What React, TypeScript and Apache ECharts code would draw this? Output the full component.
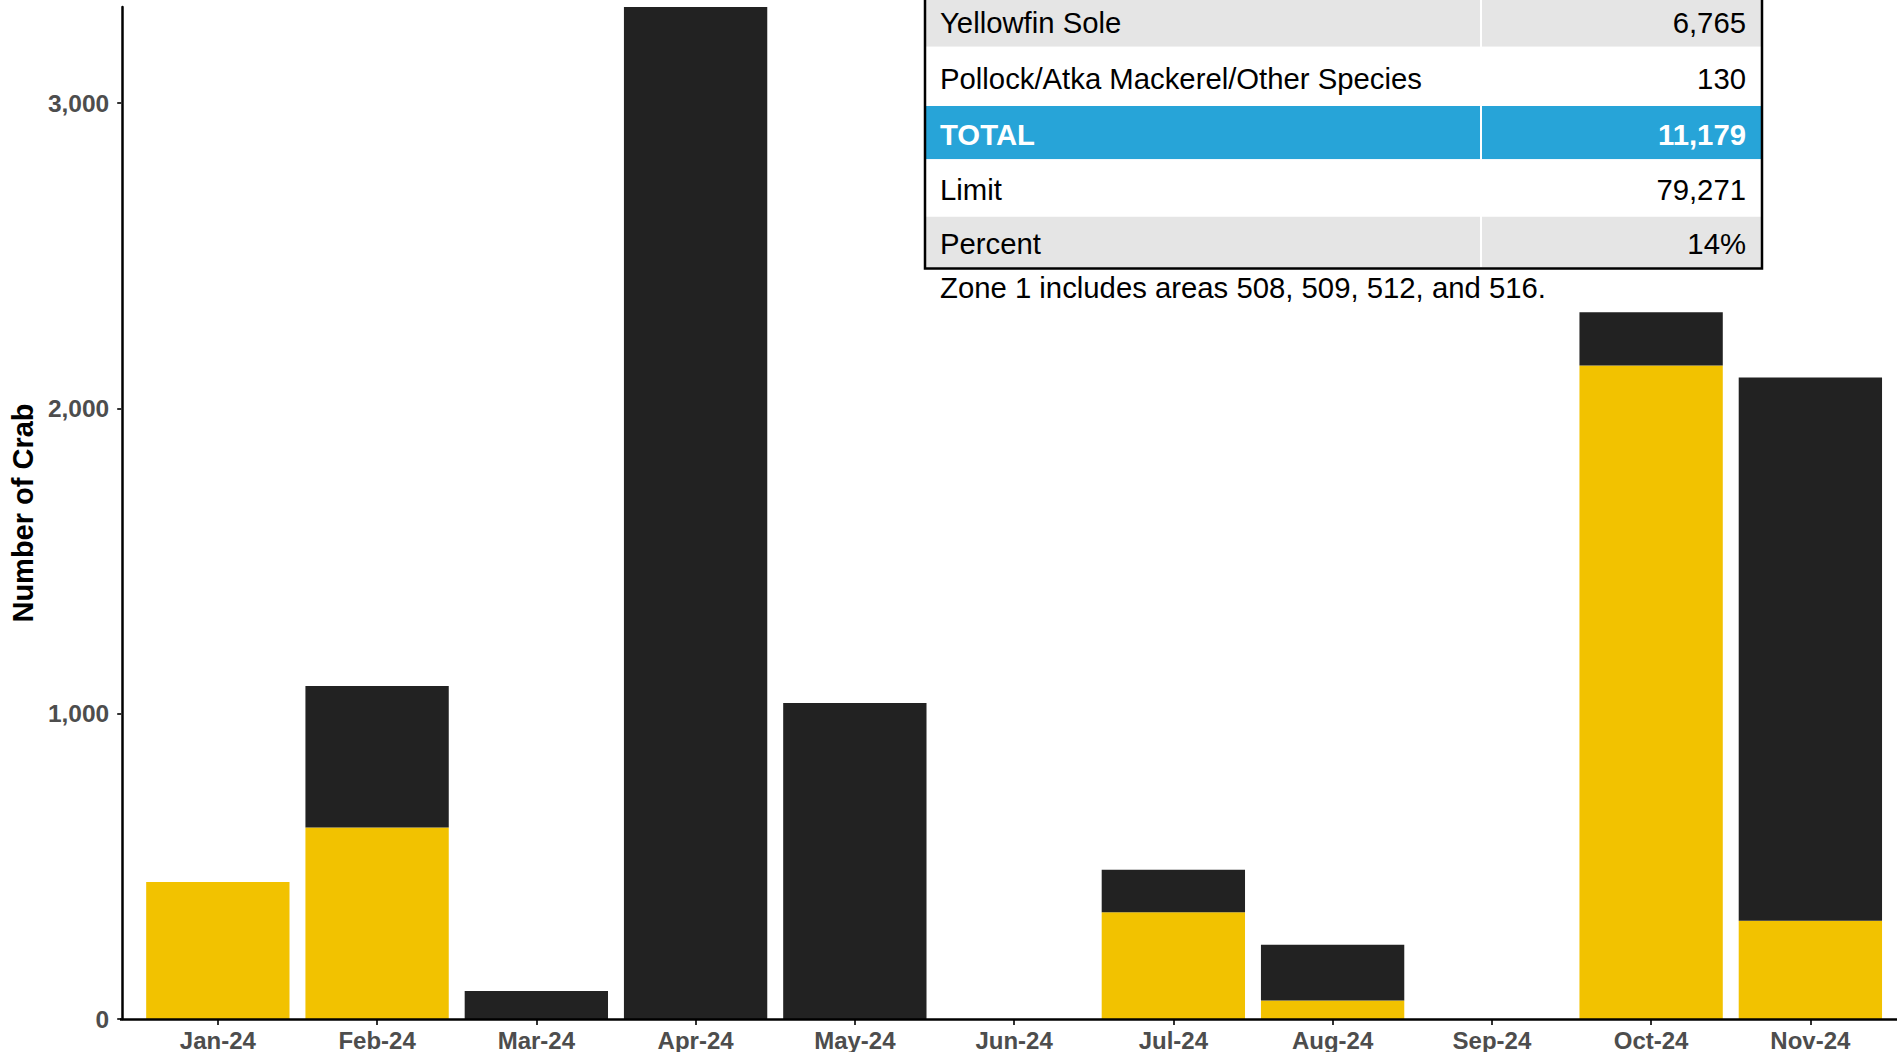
import React, { useEffect, useRef } from "react";
import * as echarts from "echarts";

const months = ["Jan-24", "Feb-24", "Mar-24", "Apr-24", "May-24", "Jun-24", "Jul-24", "Aug-24", "Sep-24", "Oct-24", "Nov-24"];
const goldValues = [449, 627, 0, 0, 0, 0, 350, 61, 0, 2141, 322];
const blackValues = [0, 464, 92, 3315, 1035, 0, 139, 182, 0, 174, 1779];
const yTicks = [0, 1000, 2000, 3000];

const tableLabels = ["Yellowfin Sole", "Pollock/Atka Mackerel/Other Species", "TOTAL", "Limit", "Percent"];
const tableValues = ["6,765", "130", "11,179", "79,271", "14%"];
const noteText = "Zone 1 includes areas 508, 509, 512, and 516.";

const FONT = "'Liberation Sans', Arial, sans-serif";
const GOLD = "#F2C200";
const BLACK = "#222222";
const GRAY_ROW = "#E5E5E5";
const BLUE = "#27A4D8";
const AXIS_TEXT = "#4D4D4D";

export default function App() {
  const ref = useRef<HTMLDivElement>(null);

  useEffect(() => {
    document.body.style.margin = "0";
    if (!ref.current) return;
    const chart = echarts.init(ref.current, undefined, { renderer: "svg" });

    const totals = months.map((_, i) => goldValues[i] + blackValues[i]);
    const yMax = Math.max(...totals);

    // table layout
    const tLeft = 925;
    const tRight = 1761;
    const colDiv = 1481;
    const rowEdges = [-10, 46.7, 106, 159.3, 216.7, 267.5];
    const rowFills = [GRAY_ROW, "#FFFFFF", BLUE, "#FFFFFF", GRAY_ROW];
    const rowCenters = [22.3, 78, 134, 189, 243.5];
    const tableFont = 29.3;

    const graphics: any[] = [];
    tableLabels.forEach((lab, i) => {
      graphics.push({
        type: "rect",
        shape: { x: tLeft, y: rowEdges[i], width: tRight - tLeft, height: rowEdges[i + 1] - rowEdges[i] },
        style: { fill: rowFills[i] },
        z: 10,
      });
      const isTotal = lab === "TOTAL";
      graphics.push({
        type: "text",
        x: 940,
        y: rowCenters[i],
        style: {
          text: lab,
          fill: isTotal ? "#FFFFFF" : "#000000",
          font: `${isTotal ? "bold " : ""}${tableFont}px ${FONT}`,
          align: "left",
          verticalAlign: "middle",
        },
        z: 12,
      });
      graphics.push({
        type: "text",
        x: 1746,
        y: rowCenters[i],
        style: {
          text: tableValues[i],
          fill: isTotal ? "#FFFFFF" : "#000000",
          font: `${isTotal ? "bold " : ""}${tableFont}px ${FONT}`,
          align: "right",
          verticalAlign: "middle",
        },
        z: 12,
      });
    });
    graphics.push({
      type: "line",
      shape: { x1: colDiv, y1: -10, x2: colDiv, y2: 267 },
      style: { stroke: "#FFFFFF", lineWidth: 2 },
      z: 11,
    });
    graphics.push({
      type: "polyline",
      shape: { points: [[tLeft, -5], [tLeft, 268.5], [tRight + 1, 268.5], [tRight + 1, -5]] },
      style: { stroke: "#000000", lineWidth: 2.5, fill: null },
      z: 13,
    });
    graphics.push({
      type: "text",
      x: 940,
      y: 287,
      style: {
        text: noteText,
        fill: "#000000",
        font: `${tableFont}px ${FONT}`,
        align: "left",
        verticalAlign: "middle",
      },
      z: 12,
    });
    // x axis baseline spanning the full panel width
    graphics.push({
      type: "line",
      shape: { x1: 120, y1: 1019.5, x2: 1897, y2: 1019.5 },
      style: { stroke: "#000000", lineWidth: 2.5 },
      z: 5,
    });

    chart.setOption({
      animation: false,
      backgroundColor: "#FFFFFF",
      grid: { left: 137, right: 7, top: 7, bottom: 33, containLabel: false },
      xAxis: {
        type: "category",
        data: months,
        axisLine: { show: false },
        axisTick: { show: true, alignWithLabel: true, length: 6, lineStyle: { color: "#333333", width: 2 } },
        axisLabel: {
          color: AXIS_TEXT,
          fontFamily: FONT,
          fontWeight: "bold",
          fontSize: 24,
          margin: 9,
          interval: 0,
        },
        splitLine: { show: false },
      },
      yAxis: {
        type: "value",
        min: 0,
        max: yMax,
        interval: 1000,
        offset: 16,
        name: "Number of Crab",
        nameLocation: "middle",
        nameRotate: 90,
        nameGap: 84,
        nameTextStyle: { color: "#000000", fontFamily: FONT, fontWeight: "bold", fontSize: 29 },
        axisLine: { show: true, lineStyle: { color: "#000000", width: 2.5 } },
        axisTick: { show: true, length: 5, lineStyle: { color: "#333333", width: 2 }, customValues: yTicks },
        axisLabel: {
          color: AXIS_TEXT,
          fontFamily: FONT,
          fontWeight: "bold",
          fontSize: 24.5,
          margin: 13,
          customValues: yTicks,
          formatter: (v: number) => v.toLocaleString("en-US"),
        },
        splitLine: { show: false },
      },
      series: [
        {
          name: "Gold",
          type: "bar",
          stack: "total",
          barWidth: "90%",
          data: goldValues,
          itemStyle: { color: GOLD },
        },
        {
          name: "Black",
          type: "bar",
          stack: "total",
          barWidth: "90%",
          data: blackValues,
          itemStyle: { color: BLACK },
        },
      ],
      graphic: graphics,
    });

    return () => {
      chart.dispose();
    };
  }, []);

  return (
    <div
      ref={ref}
      style={{ width: 1897, height: 1052, position: "absolute", left: 0, top: 0, background: "#fff" }}
    />
  );
}
